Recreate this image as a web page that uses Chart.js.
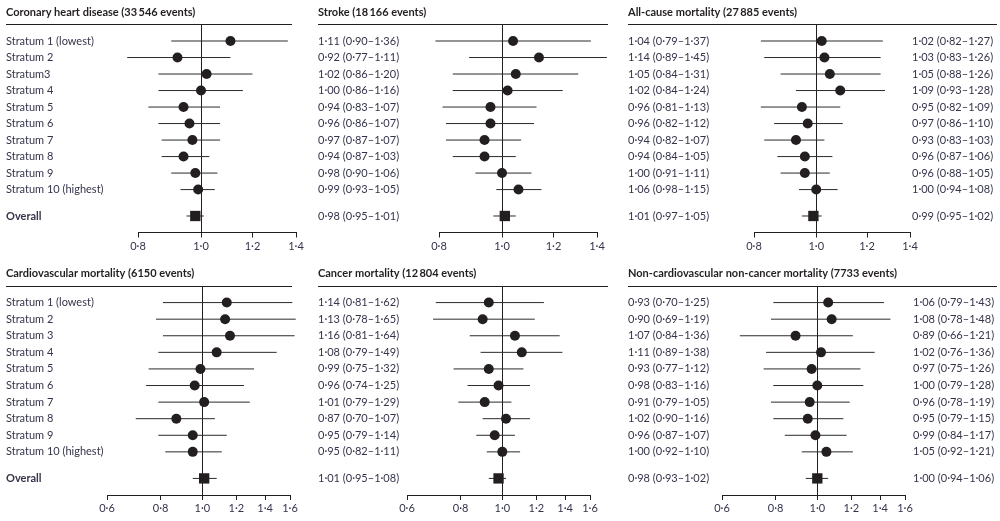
<!DOCTYPE html>
<html>
<head>
<meta charset="utf-8">
<script src="https://cdn.jsdelivr.net/npm/chart.js@4.4.0/dist/chart.umd.min.js"></script>
<style>
  html, body { margin: 0; padding: 0; background: #fff; }
  #wrap { position: relative; width: 1000px; height: 521px; overflow: hidden; }
  #wrap canvas { position: absolute; }
</style>
</head>
<body>
<div id="wrap"></div>
<script>
// row labels (last entry = overall estimate)
const STRATA_TOP = ["Stratum 1 (lowest)", "Stratum 2", "Stratum3", "Stratum 4", "Stratum 5", "Stratum 6",
  "Stratum 7", "Stratum 8", "Stratum 9", "Stratum 10 (highest)", "Overall"];
const STRATA_BOTTOM = ["Stratum 1 (lowest)", "Stratum 2", "Stratum 3", "Stratum 4", "Stratum 5", "Stratum 6",
  "Stratum 7", "Stratum 8", "Stratum 9", "Stratum 10 (highest)", "Overall"];

// hazard ratios with 95% CI, strata 1-10 then overall
const CHD_HR = [1.11, 0.92, 1.02, 1.00, 0.94, 0.96, 0.97, 0.94, 0.98, 0.99, 0.98];
const CHD_LO = [0.90, 0.77, 0.86, 0.86, 0.83, 0.86, 0.87, 0.87, 0.90, 0.93, 0.95];
const CHD_HI = [1.36, 1.11, 1.20, 1.16, 1.07, 1.07, 1.07, 1.03, 1.06, 1.05, 1.01];

const STROKE_HR = [1.04, 1.14, 1.05, 1.02, 0.96, 0.96, 0.94, 0.94, 1.00, 1.06, 1.01];
const STROKE_LO = [0.79, 0.89, 0.84, 0.84, 0.81, 0.82, 0.82, 0.84, 0.91, 0.98, 0.97];
const STROKE_HI = [1.37, 1.45, 1.31, 1.24, 1.13, 1.12, 1.07, 1.05, 1.11, 1.15, 1.05];

const ALL_HR = [1.02, 1.03, 1.05, 1.09, 0.95, 0.97, 0.93, 0.96, 0.96, 1.00, 0.99];
const ALL_LO = [0.82, 0.83, 0.88, 0.93, 0.82, 0.86, 0.83, 0.87, 0.88, 0.94, 0.95];
const ALL_HI = [1.27, 1.26, 1.26, 1.28, 1.09, 1.10, 1.03, 1.06, 1.05, 1.08, 1.02];

const CVD_HR = [1.14, 1.13, 1.16, 1.08, 0.99, 0.96, 1.01, 0.87, 0.95, 0.95, 1.01];
const CVD_LO = [0.81, 0.78, 0.81, 0.79, 0.75, 0.74, 0.79, 0.70, 0.79, 0.82, 0.95];
const CVD_HI = [1.62, 1.65, 1.64, 1.49, 1.32, 1.25, 1.29, 1.07, 1.14, 1.11, 1.08];

const CANCER_HR = [0.93, 0.90, 1.07, 1.11, 0.93, 0.98, 0.91, 1.02, 0.96, 1.00, 0.98];
const CANCER_LO = [0.70, 0.69, 0.84, 0.89, 0.77, 0.83, 0.79, 0.90, 0.87, 0.92, 0.93];
const CANCER_HI = [1.25, 1.19, 1.36, 1.38, 1.12, 1.16, 1.05, 1.16, 1.07, 1.10, 1.02];

const OTHER_HR = [1.06, 1.08, 0.89, 1.02, 0.97, 1.00, 0.96, 0.95, 0.99, 1.05, 1.00];
const OTHER_LO = [0.79, 0.78, 0.66, 0.76, 0.75, 0.79, 0.78, 0.79, 0.84, 0.92, 0.94];
const OTHER_HI = [1.43, 1.48, 1.21, 1.36, 1.26, 1.28, 1.19, 1.15, 1.17, 1.21, 1.06];

const TICKS_TOP = [0.8, 1.0, 1.2, 1.4];
const TICKS_BOTTOM = [0.6, 0.8, 1.0, 1.2, 1.4, 1.6];
const REF = 1.0;

const FONT = "Lato";
const INK = "#231f20";
const TEXT = "#34344a";
// vertical slot of each row; overall sits a little lower
const ROW_Y = [0, 1, 2, 3, 4, 5, 6, 7, 8, 9, 10.6];

function fmt(v, d) {
  return v.toFixed(d).replace(".", "\u00b7");
}
function hrText(hr, lo, hi) {
  return hr.map((v, i) => fmt(v, 2) + " (" + fmt(lo[i], 2) + "\u2013" + fmt(hi[i], 2) + ")");
}

// horizontal rule under each panel title
const rulePlugin = {
  id: "rule",
  afterDraw(chart, args, opts) {
    const ctx = chart.ctx;
    const y = Math.floor(chart.chartArea.top) + 0.5;
    ctx.save();
    ctx.strokeStyle = INK;
    ctx.lineWidth = 1;
    ctx.beginPath();
    ctx.moveTo(opts.x0, y);
    ctx.lineTo(opts.x1, y);
    ctx.stroke();
    ctx.restore();
  }
};

function makePanel(p) {
  const cv = document.createElement("canvas");
  cv.width = p.w;
  cv.height = p.h;
  cv.style.left = p.left + "px";
  cv.style.top = p.top + "px";
  document.getElementById("wrap").appendChild(cv);

  const text = hrText(p.hr, p.lo, p.hi);
  const pts = p.hr.map((v, i) => ({ x: v, y: ROW_Y[i] }));
  const ciSets = p.lo.map((lo, i) => ({
    data: [{ x: lo, y: ROW_Y[i] }, { x: p.hi[i], y: ROW_Y[i] }],
    showLine: true,
    pointRadius: 0,
    borderColor: "#2b2b2b",
    borderWidth: 1,
    clip: false,
    order: 2
  }));
  const rowTicks = (s) => { s.ticks = ROW_Y.map((v) => ({ value: v })); };

  new Chart(cv.getContext("2d"), {
    type: "scatter",
    data: {
      datasets: [
        { data: pts.slice(0, 10), pointStyle: "circle", pointRadius: 5, backgroundColor: INK, borderWidth: 0, clip: false, order: 0 },
        { data: pts.slice(10), pointStyle: "rect", pointRadius: 7.3, backgroundColor: INK, borderWidth: 0, clip: false, order: 0 },
        ...ciSets
      ]
    },
    plugins: [rulePlugin],
    options: {
      responsive: false,
      animation: false,
      events: [],
      layout: { padding: { left: p.padL, right: 0, top: 0, bottom: 0 } },
      plugins: {
        legend: { display: false },
        tooltip: { enabled: false },
        title: {
          display: true,
          text: p.title,
          align: "start",
          color: INK,
          font: { family: FONT, size: 11, weight: "bold" },
          padding: { top: p.titleTop, bottom: p.titleBottom }
        },
        rule: { x0: p.padL, x1: p.ruleX1 }
      },
      scales: {
        x: {
          type: "logarithmic",
          bounds: "data",
          min: p.ticks[0],
          max: p.ticks[p.ticks.length - 1],
          afterBuildTicks: (s) => { s.ticks = p.ticks.map((v) => ({ value: v })); },
          afterFit: (s) => { s.height = p.xH; },
          ticks: {
            callback: (v) => fmt(v, 1),
            autoSkip: false,
            maxRotation: 0,
            padding: 2,
            color: TEXT,
            font: { family: FONT, size: 11 }
          },
          grid: {
            drawOnChartArea: true,
            drawTicks: true,
            tickLength: 5,
            lineWidth: 1,
            color: (c) => (c.tick && c.tick.value === REF ? INK : "rgba(0,0,0,0)"),
            tickColor: INK
          },
          border: { display: true, color: INK, width: 1 }
        },
        y: {
          type: "linear",
          reverse: true,
          min: -1,
          max: 11.6,
          afterBuildTicks: rowTicks,
          afterFit: (s) => { s.width = p.yW; },
          ticks: {
            display: !!p.labels,
            autoSkip: false,
            crossAlign: "far",
            padding: 0,
            callback: (v, i) => (p.labels ? p.labels[i] : ""),
            color: TEXT,
            font: (c) => ({ family: FONT, size: 11, weight: c.index === 10 ? "bold" : "normal" })
          },
          grid: { display: false, drawTicks: false },
          border: { display: false }
        },
        yr: {
          type: "linear",
          position: "right",
          reverse: true,
          min: -1,
          max: 11.6,
          afterBuildTicks: rowTicks,
          afterFit: (s) => { s.width = p.w - p.chartRight; },
          ticks: {
            padding: 0,
            autoSkip: false,
            crossAlign: "near",
            callback: (v, i) => text[i],
            color: TEXT,
            font: { family: FONT, size: 11 }
          },
          // hidden tick marks: their length only sets the gap before the text column
          grid: { display: false, drawTicks: true, tickLength: p.yrPad },
          border: { display: false }
        }
      }
    }
  });
}

const TOP = { top: 0, h: 260, xH: 27.5, titleTop: 6, titleBottom: 5.3, ticks: TICKS_TOP };
const BOT = { top: 260, h: 261, xH: 26, titleTop: 7, titleBottom: 5.8, ticks: TICKS_BOTTOM };

makePanel({ ...TOP, left: 0, w: 440, padL: 6, yW: 132, chartRight: 296, yrPad: 22, ruleX1: 292,
  title: "Coronary heart disease (33\u2009546 events)", labels: STRATA_TOP, hr: CHD_HR, lo: CHD_LO, hi: CHD_HI });
makePanel({ ...TOP, left: 318, w: 430, padL: 0, yW: 121, chartRight: 279, yrPad: 31, ruleX1: 290,
  title: "Stroke (18\u2009166 events)", labels: null, hr: STROKE_HR, lo: STROKE_LO, hi: STROKE_HI });
makePanel({ ...TOP, left: 628, w: 372, padL: 0, yW: 126, chartRight: 282, yrPad: 2, ruleX1: 369,
  title: "All-cause mortality (27\u2009885 events)", labels: null, hr: ALL_HR, lo: ALL_LO, hi: ALL_HI });

makePanel({ ...BOT, left: 0, w: 440, padL: 6, yW: 101, chartRight: 290, yrPad: 28, ruleX1: 292,
  title: "Cardiovascular mortality (6150 events)", labels: STRATA_BOTTOM, hr: CVD_HR, lo: CVD_LO, hi: CVD_HI });
makePanel({ ...BOT, left: 318, w: 430, padL: 0, yW: 89, chartRight: 272, yrPad: 38, ruleX1: 290,
  title: "Cancer mortality (12\u2009804 events)", labels: null, hr: CANCER_HR, lo: CANCER_LO, hi: CANCER_HI });
makePanel({ ...BOT, left: 628, w: 372, padL: 0, yW: 94, chartRight: 277, yrPad: 8, ruleX1: 369,
  title: "Non-cardiovascular non-cancer mortality (7733 events)", labels: null, hr: OTHER_HR, lo: OTHER_LO, hi: OTHER_HI });
</script>
</body>
</html>
